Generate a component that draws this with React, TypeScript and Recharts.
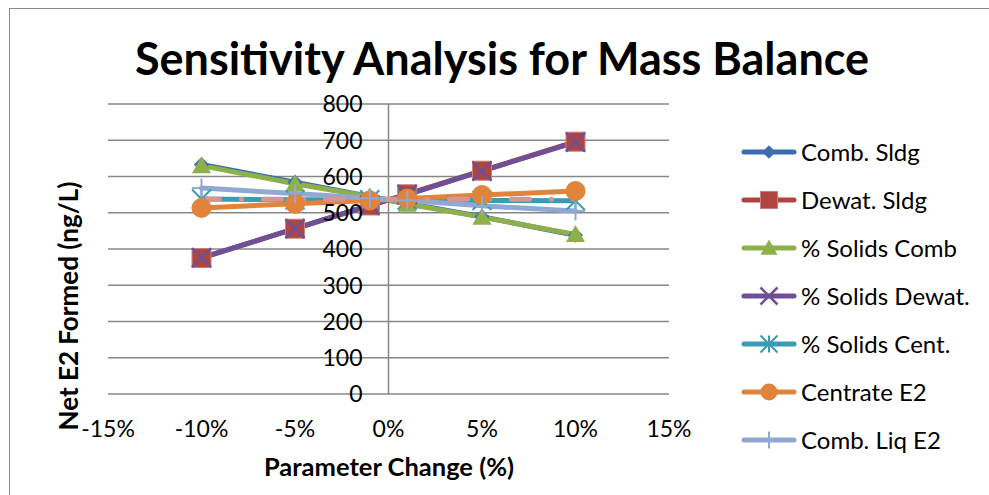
import { LineChart, Line, XAxis, YAxis, CartesianGrid, ReferenceLine } from 'recharts';

// Parameter change (%) at which each scenario was evaluated
const xValues = [-10, -5, -1, 1, 5, 10];

// Net E2 formed (ng/L) per scenario
const combSldg = [633, 584, 545, 526, 489, 438];
const dewatSldg = [375, 456, 520, 551, 616, 696];
const solidsComb = [630, 580, 544, 524, 488, 440];
const solidsDewat = [376, 456, 521, 550, 615, 695];
const solidsCent = [538, 536, 536, 535, 534, 533];
const centrateE2 = [513, 525, 534, 539, 549, 560];
const combLiqE2 = [568, 553, 540, 534, 519, 505];
const extraSeries = [537, 537, 537, 537, 537, 537]; // pink dash-dot, cut off from legend

const xTicks = [-15, -10, -5, 0, 5, 10, 15];
const yTicks = [0, 100, 200, 300, 400, 500, 600, 700, 800];

type Marker = 'diamond' | 'square' | 'triangle' | 'x' | 'star' | 'circle' | 'plus' | 'none';

interface SeriesDef {
  key: string;
  name: string;
  values: number[];
  color: string;
  marker: Marker;
  dash?: string;
  inLegend: boolean;
}

const SERIES: SeriesDef[] = [
  { key: 'combSldg', name: 'Comb. Sldg', values: combSldg, color: '#3d6db0', marker: 'diamond', inLegend: true },
  { key: 'dewatSldg', name: 'Dewat. Sldg', values: dewatSldg, color: '#b2443f', marker: 'square', inLegend: true },
  { key: 'solidsComb', name: '% Solids Comb', values: solidsComb, color: '#8db04b', marker: 'triangle', inLegend: true },
  { key: 'solidsDewat', name: '% Solids Dewat.', values: solidsDewat, color: '#6e5096', marker: 'x', inLegend: true },
  { key: 'solidsCent', name: '% Solids Cent.', values: solidsCent, color: '#3b9bb5', marker: 'star', inLegend: true },
  { key: 'centrateE2', name: 'Centrate E2', values: centrateE2, color: '#e0843b', marker: 'circle', inLegend: true },
  { key: 'combLiqE2', name: 'Comb. Liq E2', values: combLiqE2, color: '#91a9d2', marker: 'plus', inLegend: true },
  { key: 'extra', name: 'Series 8', values: extraSeries, color: '#d69593', marker: 'none', dash: '18 22 0 22', inLegend: false },
];

const data = xValues.map((x, i) => {
  const row: Record<string, number> = { x };
  SERIES.forEach((s) => {
    row[s.key] = s.values[i];
  });
  return row;
});

const W = 989;
const H = 495;
const PLOT_LEFT = 108;
const PLOT_RIGHT = 669;
const PLOT_TOP = 104;
const PLOT_BOTTOM = 394;
const X_MIN = -15;
const X_MAX = 15;
const Y_AXIS_W = 40;
const X_AXIS_H = 30;
const FONT = 'Lato, "Open Sans", sans-serif';
const TICK_FS = 23;

// the vertical axis crosses at 0%, so the value labels sit next to it
const zeroX = PLOT_LEFT + ((0 - X_MIN) / (X_MAX - X_MIN)) * (PLOT_RIGHT - PLOT_LEFT);

function markerShape(marker: Marker, cx: number, cy: number, size: number, color: string, k?: string) {
  const h = size / 2;
  switch (marker) {
    case 'diamond':
      return <path key={k} d={`M${cx},${cy - h * 0.8} L${cx + h * 0.8},${cy} L${cx},${cy + h * 0.8} L${cx - h * 0.8},${cy} Z`} fill={color} />;
    case 'square':
      return <rect key={k} x={cx - h} y={cy - h} width={size} height={size} fill={color} stroke="#c9807c" strokeWidth={1} />;
    case 'triangle':
      return <path key={k} d={`M${cx},${cy - h} L${cx + h},${cy + h * 0.8} L${cx - h},${cy + h * 0.8} Z`} fill={color} />;
    case 'x':
      return (
        <g key={k} stroke={color} strokeWidth={2.5}>
          <line x1={cx - h} y1={cy - h} x2={cx + h} y2={cy + h} />
          <line x1={cx - h} y1={cy + h} x2={cx + h} y2={cy - h} />
        </g>
      );
    case 'star':
      return (
        <g key={k} stroke={color} strokeWidth={2}>
          <line x1={cx - h} y1={cy - h} x2={cx + h} y2={cy + h} />
          <line x1={cx - h} y1={cy + h} x2={cx + h} y2={cy - h} />
          <line x1={cx} y1={cy - h} x2={cx} y2={cy + h} />
        </g>
      );
    case 'circle':
      return <circle key={k} cx={cx} cy={cy} r={h} fill={color} />;
    case 'plus':
      return (
        <g key={k} stroke={color} strokeWidth={2}>
          <line x1={cx} y1={cy - h} x2={cx} y2={cy + h} />
          <line x1={cx - h} y1={cy} x2={cx + h} y2={cy} />
        </g>
      );
    default:
      return <g key={k} />;
  }
}

const YTick = (props: any) => {
  const { y, payload } = props;
  return (
    <text x={zeroX - 26} y={y} dy="0.36em" textAnchor="end" fontSize={TICK_FS} fill="#000" fontFamily={FONT}>
      {payload.value}
    </text>
  );
};

function LegendBox() {
  return (
    <div style={{ position: 'absolute', left: 741, top: 128 }}>
      {SERIES.filter((s) => s.inLegend).map((s) => (
        <div key={s.key} style={{ display: 'flex', alignItems: 'center', height: 48 }}>
          <svg width={56} height={24} style={{ overflow: 'visible' }}>
            <line x1={3} y1={12} x2={53} y2={12} stroke={s.color} strokeWidth={5} strokeLinecap="round" />
            {markerShape(s.marker, 28, 12, 17, s.color)}
          </svg>
          <span style={{ marginLeft: 4, fontSize: 24, color: '#000', fontFamily: FONT, lineHeight: '28px' }}>{s.name}</span>
        </div>
      ))}
    </div>
  );
}

export default function App() {
  return (
    <div style={{ position: 'fixed', left: 0, top: 0, width: W, height: H, background: '#fff', overflow: 'hidden', fontFamily: FONT }}>
      <div style={{ position: 'absolute', left: 9, top: 8, width: 2000, height: 2000, borderLeft: '1.5px solid #8a8a8a', borderTop: '1.5px solid #8a8a8a' }} />
      <div style={{ position: 'absolute', left: 0, top: 0 }}>
        <LineChart
          width={W}
          height={H}
          data={data}
          margin={{ top: PLOT_TOP, right: W - PLOT_RIGHT, bottom: H - PLOT_BOTTOM - X_AXIS_H, left: PLOT_LEFT - Y_AXIS_W }}
        >
          <CartesianGrid vertical={false} stroke="#878787" strokeWidth={1.5} />
          <ReferenceLine x={0} stroke="#878787" strokeWidth={1.5} />
          <XAxis
            dataKey="x"
            type="number"
            domain={[X_MIN, X_MAX]}
            ticks={xTicks}
            tickFormatter={(v) => `${v}%`}
            axisLine={false}
            tickLine={false}
            tickSize={0}
            tickMargin={27}
            height={X_AXIS_H}
            tick={{ fontSize: TICK_FS, fill: '#000', fontFamily: FONT }}
            interval={0}
          />
          <YAxis
            type="number"
            domain={[0, 800]}
            ticks={yTicks}
            axisLine={false}
            tickLine={false}
            width={Y_AXIS_W}
            tick={<YTick />}
            interval={0}
          />
          {SERIES.map((s) => (
            <Line
              key={s.key}
              type="linear"
              dataKey={s.key}
              name={s.name}
              stroke={s.color}
              strokeWidth={5}
              strokeDasharray={s.dash}
              strokeLinecap="round"
              strokeLinejoin="round"
              dot={(p: any) => markerShape(s.marker, p.cx, p.cy, s.marker === 'circle' ? 20 : 19, s.color, `${s.key}-${p.index}`)}
              activeDot={false}
              isAnimationActive={false}
              legendType="none"
            />
          ))}
        </LineChart>
      </div>
      <div style={{ position: 'absolute', left: 0, width: 1004, top: 30, textAlign: 'center', fontSize: 45, fontWeight: 700, lineHeight: '56px', color: '#000' }}>
        Sensitivity Analysis for Mass Balance
      </div>
      <div style={{ position: 'absolute', left: 0, width: 778, top: 450, textAlign: 'center', fontSize: 25.5, fontWeight: 700, lineHeight: '32px', color: '#000' }}>
        Parameter Change (%)
      </div>
      <div
        style={{
          position: 'absolute',
          left: 68,
          top: 306,
          transform: 'translate(-50%, -50%) rotate(-90deg)',
          whiteSpace: 'nowrap',
          fontSize: 26,
          fontWeight: 700,
          lineHeight: '32px',
          color: '#000',
        }}
      >
        Net E2 Formed (ng/L)
      </div>
      <LegendBox />
    </div>
  );
}
